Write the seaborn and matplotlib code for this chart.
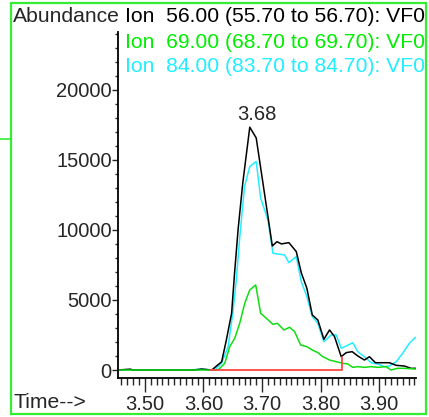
import matplotlib
matplotlib.use("Agg")
import matplotlib.pyplot as plt
from matplotlib.ticker import MultipleLocator
import pandas as pd
import seaborn as sns

# retention time (min) / abundance
t_56 = [3.454, 3.475, 3.480, 3.585, 3.597, 3.614, 3.631, 3.639, 3.648, 3.653, 3.659, 3.667,
        3.679, 3.690, 3.7175, 3.7254, 3.7329, 3.7458, 3.7584, 3.767, 3.7765, 3.7857, 3.7952,
        3.8055, 3.8152, 3.8237, 3.8351, 3.8436, 3.8538, 3.8634, 3.8748, 3.8833, 3.8935,
        3.906, 3.9174, 3.9288, 3.9429, 3.9543, 3.963]
v_56 = [0, 60, 0, 0, 70, 0, 590, 2140, 4050, 6900, 10000, 13330,
        17330, 16560, 8850, 9160, 9000, 9090, 8450, 6930, 5830, 3930, 3570,
        2190, 2860, 2380, 950, 1240, 1310, 1000, 714, 950, 520,
        520, 520, 335, 285, 120, 120]

t_69 = [3.454, 3.585, 3.6249, 3.6363, 3.6448, 3.6533, 3.6618, 3.6704, 3.6789, 3.6891, 3.6976,
        3.7073, 3.7186, 3.7261, 3.7373, 3.747, 3.7555, 3.7658, 3.7765, 3.7857, 3.7952,
        3.8037, 3.8152, 3.8266, 3.8378, 3.8463, 3.8548, 3.8634, 3.8748, 3.8862, 3.8974,
        3.9118, 3.920, 3.9315, 3.9429, 3.963]
v_69 = [0, 0, 0, 480, 1665, 2260, 3330, 4760, 5710, 6070, 4050,
        3690, 3260, 3330, 2860, 3050, 2740, 1785, 1665, 1430, 1240,
        950, 714, 595, 480, 430, 190, 240, 190, 240, 190,
        240, 0, 120, 120, 70]

t_84 = [3.454, 3.580, 3.590, 3.619, 3.631, 3.642, 3.650, 3.656, 3.662, 3.670, 3.679, 3.690,
        3.6976, 3.710, 3.7186, 3.727, 3.7385, 3.7458, 3.7584, 3.767, 3.7765, 3.7857, 3.7952,
        3.8055, 3.818, 3.8266, 3.8351, 3.8436, 3.8548, 3.8634, 3.8748, 3.8862, 3.8974,
        3.9089, 3.9174, 3.9288, 3.940, 3.9514, 3.9617]
v_84 = [0, 0, 60, 0, 500, 1665, 4050, 6430, 9520, 13090, 14520, 14880,
        12260, 10710, 8330, 8280, 8210, 7660, 8090, 6300, 5240, 3810, 3330,
        2020, 2500, 2500, 1550, 1710, 1950, 1310, 950, 520, 430,
        240, 285, 590, 1190, 1900, 2330]

base_t = [3.611, 3.8366, 3.8366]
base_v = [0, 0, 900]

ions = ["56", "69", "84"]
ion_titles = ["Ion  56.00 (55.70 to 56.70): VF0",
              "Ion  69.00 (68.70 to 69.70): VF0",
              "Ion  84.00 (83.70 to 84.70): VF0"]
colors = ["#000000", "#11dd11", "#22eeff"]
text_colors = ["#000000", "#00ee00", "#22eeff"]
peak_label = "3.68"

df = pd.concat([
    pd.DataFrame({"time": t_56, "abundance": v_56, "ion": "56"}),
    pd.DataFrame({"time": t_69, "abundance": v_69, "ion": "69"}),
    pd.DataFrame({"time": t_84, "abundance": v_84, "ion": "84"}),
])

sns.set_style("ticks")
plt.rcParams["font.family"] = ["Liberation Sans", "DejaVu Sans"]
fs = 14.5
fs_head = 15.2

fig = plt.figure(figsize=(4.29, 4.17), dpi=100)
ax = fig.add_axes([0.275, 0.0935, 0.695, 0.83])

# draw order: cyan under black, green on top
for ion, col in [("84", colors[2]), ("56", colors[0]), ("69", colors[1])]:
    sns.lineplot(data=df[df["ion"] == ion], x="time", y="abundance", color=col,
                 lw=1.1, estimator=None, sort=False, ax=ax)
sns.lineplot(x=base_t, y=base_v, color="#ff4444", lw=1.3, estimator=None, sort=False, ax=ax)

pk = v_56.index(max(v_56))
ax.annotate(peak_label, xy=(t_56[pk], v_56[pk]), xytext=(5, 2), textcoords="offset points",
            ha="center", va="bottom", fontsize=fs)

ax.set_xlim(3.454, 3.963)
ax.set_ylim(-571, 24130)
ax.xaxis.set_major_locator(MultipleLocator(0.1))
ax.xaxis.set_minor_locator(MultipleLocator(0.01))
ax.yaxis.set_major_locator(MultipleLocator(5000))
ax.yaxis.set_minor_locator(MultipleLocator(1000))
ax.set_xticks([3.5, 3.6, 3.7, 3.8, 3.9])
ax.set_xticklabels(["3.50", "3.60", "3.70", "3.80", "3.90"])
ax.tick_params(axis="x", which="major", length=10, width=1, pad=2, labelsize=fs)
ax.tick_params(axis="x", which="minor", length=5, width=1)
ax.tick_params(axis="y", which="major", length=4, width=1, pad=0.5, labelsize=fs)
ax.tick_params(axis="y", which="minor", length=2, width=1)
ax.set_xlabel("")
ax.set_ylabel("")
sns.despine(ax=ax)
for s in ["left", "bottom"]:
    ax.spines[s].set_linewidth(1.3)
    ax.spines[s].set_color("black")

fig.text(13 / 429, 1 - 17 / 417, "Abundance", fontsize=fs_head, va="center", ha="left")
fig.text(13 / 429, 1 - 403 / 417, "Time-->", fontsize=fs_head, va="center", ha="left")
for i, (title, col) in enumerate(zip(ion_titles, text_colors)):
    fig.text(125 / 429, 1 - (17 + 25 * i) / 417, title, fontsize=fs_head, color=col,
             va="center", ha="left")

# green window frame
fig.add_artist(plt.Rectangle((11 / 429, 3 / 417), 415 / 429, 411 / 417, fill=False,
                             edgecolor="#33ee33", lw=1.6, transform=fig.transFigure))
fig.add_artist(plt.Line2D([0, 11 / 429], [1 - 139 / 417] * 2, color="#33ee33", lw=1.2,
                          transform=fig.transFigure))

fig.savefig("out.png", dpi=100)
